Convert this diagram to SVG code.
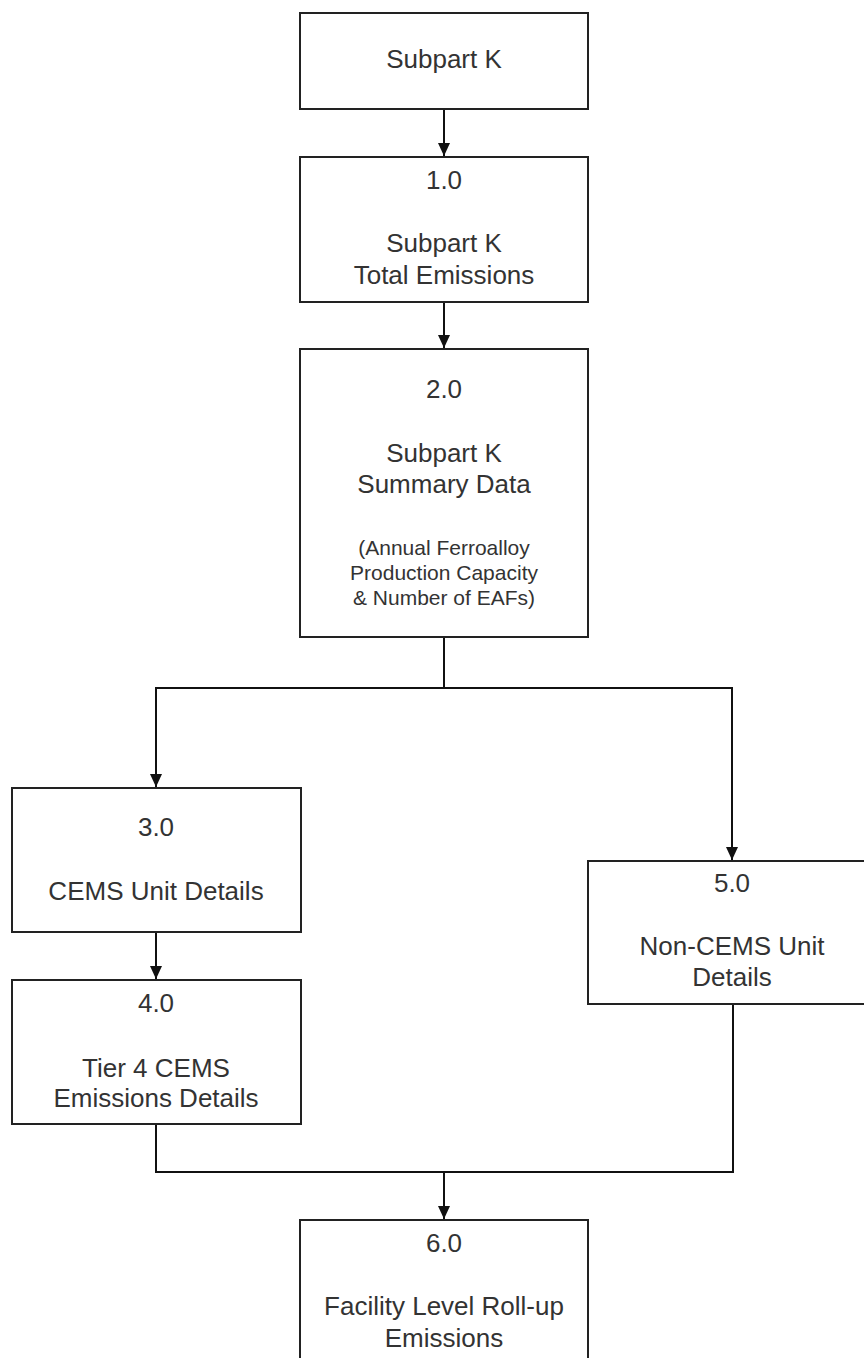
<svg xmlns="http://www.w3.org/2000/svg" width="864" height="1358" viewBox="0 0 864 1358">
<style>
.box{fill:#fff;stroke:#222;stroke-width:2}
.t{font-family:"Liberation Sans",Arial,sans-serif;font-size:26px;fill:#333;text-anchor:middle}
.s{font-family:"Liberation Sans",Arial,sans-serif;font-size:21px;fill:#333;text-anchor:middle}
.c{fill:none;stroke:#111;stroke-width:2}
</style>
<defs>
<marker id="ah" markerUnits="userSpaceOnUse" markerWidth="14" markerHeight="14" viewBox="0 0 14 14" refX="7" refY="13" orient="auto-start-reverse">
<path d="M1,0 L13,0 L7,13 Z" fill="#111" transform="rotate(0)"/>
</marker>
<marker id="arr" markerUnits="userSpaceOnUse" markerWidth="14" markerHeight="14" viewBox="0 0 14 14" refX="13" refY="7" orient="auto">
<path d="M0,1 L13,7 L0,13 Z" fill="#111"/>
</marker>
</defs>
<rect width="864" height="1358" fill="#fff"/>
<g id="connectors">
<path class="c" d="M444,109 V156" marker-end="url(#arr)"/>
<path class="c" d="M444,302 V348" marker-end="url(#arr)"/>
<path class="c" d="M444,637 V688 H156 V787" marker-end="url(#arr)"/>
<path class="c" d="M444,688 H732 V860" marker-end="url(#arr)"/>
<path class="c" d="M156,932 V979" marker-end="url(#arr)"/>
<path class="c" d="M156,1124 V1172 H733 V1004"/>
<path class="c" d="M444,1172 V1219" marker-end="url(#arr)"/>
</g>
<g id="n0">
<rect class="box" x="300" y="13" width="288" height="96"/>
<text class="t" x="444" y="68">Subpart K</text>
</g>
<g id="n1">
<rect class="box" x="300" y="157" width="288" height="145"/>
<text class="t" x="444" y="189">1.0</text>
<text class="t" x="444" y="252">Subpart K</text>
<text class="t" x="444" y="284">Total Emissions</text>
</g>
<g id="n2">
<rect class="box" x="300" y="349" width="288" height="288"/>
<text class="t" x="444" y="398">2.0</text>
<text class="t" x="444" y="462">Subpart K</text>
<text class="t" x="444" y="493">Summary Data</text>
<text class="s" x="444" y="555">(Annual Ferroalloy</text>
<text class="s" x="444" y="580">Production Capacity</text>
<text class="s" x="444" y="605">&amp; Number of EAFs)</text>
</g>
<g id="n3">
<rect class="box" x="12" y="788" width="289" height="144"/>
<text class="t" x="156" y="836">3.0</text>
<text class="t" x="156" y="900">CEMS Unit Details</text>
</g>
<g id="n4">
<rect class="box" x="12" y="980" width="289" height="144"/>
<text class="t" x="156" y="1012">4.0</text>
<text class="t" x="156" y="1077">Tier 4 CEMS</text>
<text class="t" x="156" y="1107">Emissions Details</text>
</g>
<g id="n5">
<rect class="box" x="588" y="861" width="289" height="143"/>
<text class="t" x="732" y="892">5.0</text>
<text class="t" x="732" y="955">Non-CEMS Unit</text>
<text class="t" x="732" y="986">Details</text>
</g>
<g id="n6">
<rect class="box" x="300" y="1220" width="288" height="160"/>
<text class="t" x="444" y="1252">6.0</text>
<text class="t" x="444" y="1315">Facility Level Roll-up</text>
<text class="t" x="444" y="1347">Emissions</text>
</g>
</svg>
